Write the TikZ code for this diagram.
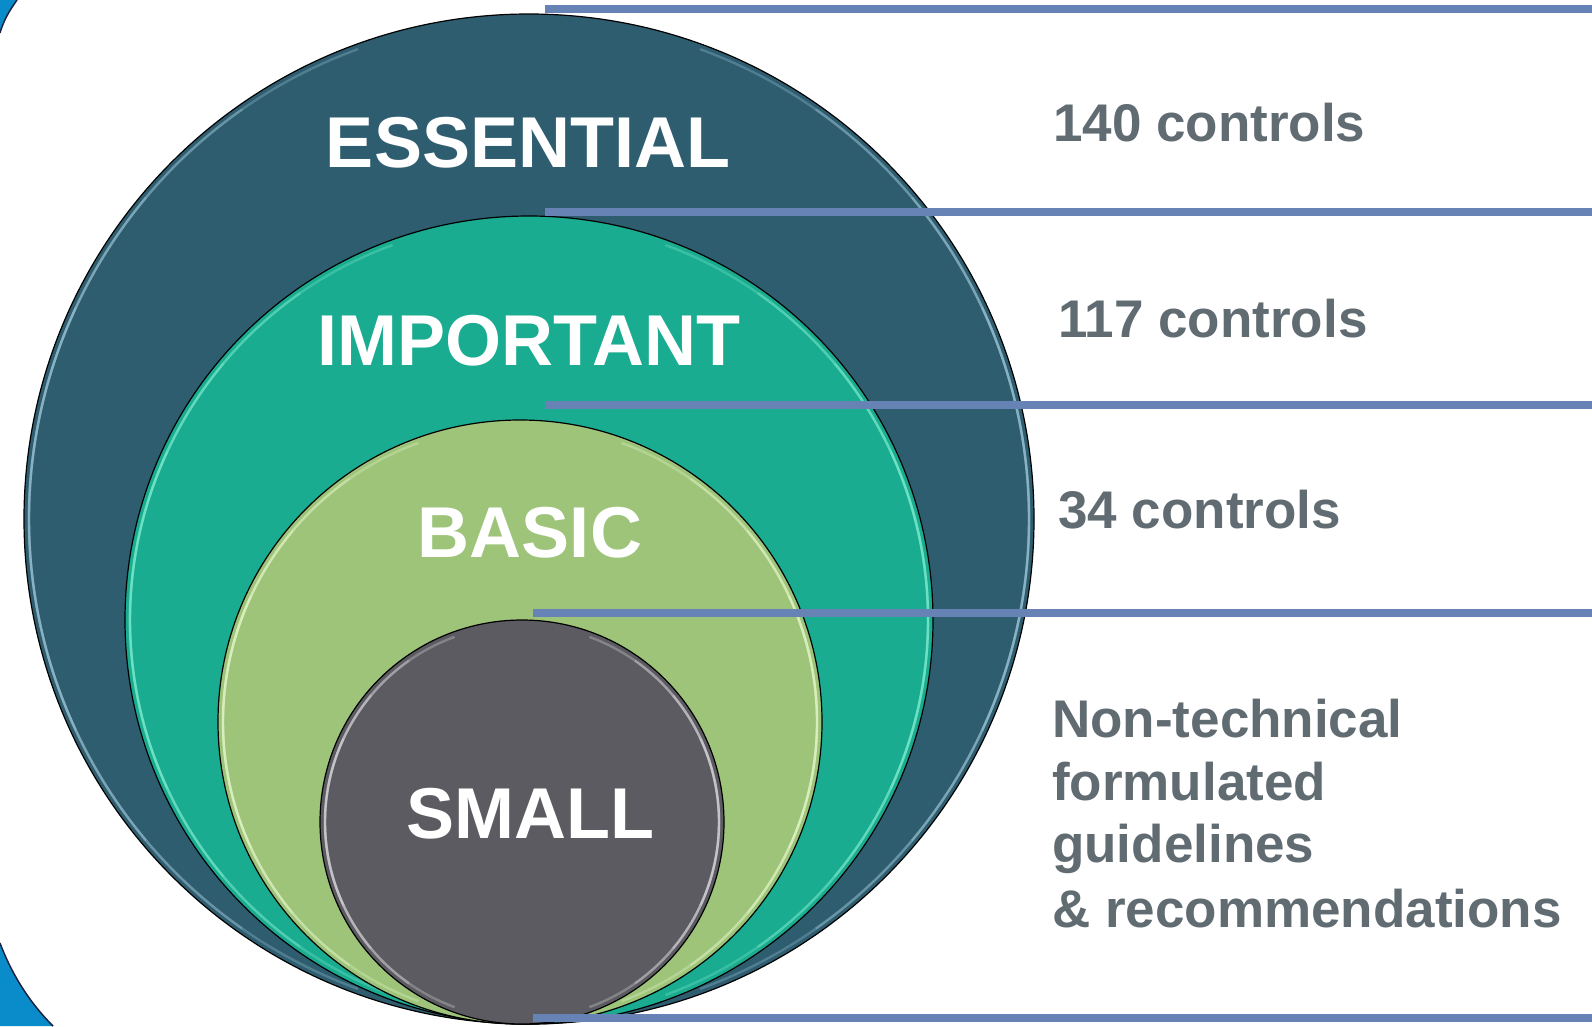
\documentclass[tikz,border=0pt]{standalone}
\usepackage{fontspec}
\setmainfont{Liberation Sans}
\definecolor{cEss}{RGB}{46,93,112}
\definecolor{cImp}{RGB}{26,172,144}
\definecolor{cBas}{RGB}{158,196,122}
\definecolor{cSma}{RGB}{92,91,97}
\definecolor{hEss}{RGB}{170,210,225}
\definecolor{hImp}{RGB}{140,245,215}
\definecolor{hBas}{RGB}{240,255,215}
\definecolor{hSma}{RGB}{235,235,240}
\definecolor{cBlue}{RGB}{10,140,203}
\definecolor{cEdge}{RGB}{26,35,64}
\definecolor{cLine}{RGB}{103,130,180}
\definecolor{cText}{RGB}{96,108,114}
\newcommand{\ringglow}[4]{%
  \foreach \ang in {25,40,55,70}{%
    \draw[#4,line width=2.4pt,opacity=0.28] (#1,#2) ++(-\ang:#3) arc[start angle=-\ang,end angle=\ang,radius=#3];
    \draw[#4,line width=2.4pt,opacity=0.28] (#1,#2) ++(180-\ang:#3) arc[start angle=180-\ang,end angle=180+\ang,radius=#3];
  }}
\begin{document}
\begin{tikzpicture}[x=1pt,y=-1pt,line join=round,
  ring/.style={circle,draw=black,line width=1.2pt,inner sep=0pt,outer sep=0pt},
  ringlabel/.style={anchor=base,inner sep=0pt,text=white,font=\fontsize{72}{80}\selectfont\bfseries},
  sidelabel/.style={anchor=base west,inner sep=0pt,text=cText,font=\fontsize{53}{60}\selectfont\bfseries},
  notelabel/.style={anchor=base west,inner sep=0pt,text=cText,font=\fontsize{53}{60}\selectfont\bfseries},
  hline/.style={draw=cLine,line width=8.5pt}]
\useasboundingbox (0,0) rectangle (1592,1026);
\fill[white] (0,0) rectangle (1592,1026);
% blue corners of the frame
\fill[cBlue] (0,0) -- (17,0) .. controls (9,11) and (3,22) .. (0,33) -- cycle;
\draw[cEdge,line width=1.5pt] (17,0) .. controls (9,11) and (3,22) .. (0,33);
\fill[cBlue] (0,943) .. controls (12,975) and (30,1003) .. (53,1026) -- (0,1026) -- cycle;
\draw[cEdge,line width=1.5pt] (0,943) .. controls (12,975) and (30,1003) .. (53,1026);
% circles
\node[ring,fill=cEss,minimum size=1010pt] (ess) at (529,519) {};
\ringglow{529}{519}{500pt}{hEss}
\node[ring,fill=cImp,minimum size=808pt] (imp) at (529,620) {};
\ringglow{529}{620}{399pt}{hImp}
\node[ring,fill=cBas,minimum size=604pt] (bas) at (520,722) {};
\ringglow{520}{722}{297pt}{hBas}
\node[ring,fill=cSma,minimum size=404pt] (sma) at (522,822) {};
\ringglow{522}{822}{197pt}{hSma}
% ring labels
\node[ringlabel] (tEss) at (528,167) {ESSENTIAL};
\node[ringlabel] (tImp) at (529,365) {IMPORTANT};
\node[ringlabel] (tBas) at (530,557) {BASIC};
\node[ringlabel] (tSma) at (530,838) {SMALL};
% horizontal rules
\coordinate (l1a) at (545,9);    \coordinate (l1b) at (1592,9);
\coordinate (l2a) at (545,212);  \coordinate (l2b) at (1592,212);
\coordinate (l3a) at (545,405);  \coordinate (l3b) at (1592,405);
\coordinate (l4a) at (533,613);  \coordinate (l4b) at (1592,613);
\coordinate (l5a) at (533,1018); \coordinate (l5b) at (1592,1018);
\draw[hline] (l1a) -- (l1b);
\draw[hline] (l2a) -- (l2b);
\draw[hline] (l3a) -- (l3b);
\draw[hline] (l4a) -- (l4b);
\draw[hline] (l5a) -- (l5b);
% side labels
\node[sidelabel] (s1) at (1053,141) {140 controls};
\node[sidelabel] (s2) at (1058,337) {117 controls};
\node[sidelabel] (s3) at (1058,528) {34 controls};
\node[notelabel] (n1) at (1052,737) {Non-technical};
\node[notelabel] (n2) at (1052,800) {formulated};
\node[notelabel] (n3) at (1052,862) {guidelines};
\node[notelabel] (n4) at (1052,927) {\& recommendations};
\end{tikzpicture}
\end{document}
